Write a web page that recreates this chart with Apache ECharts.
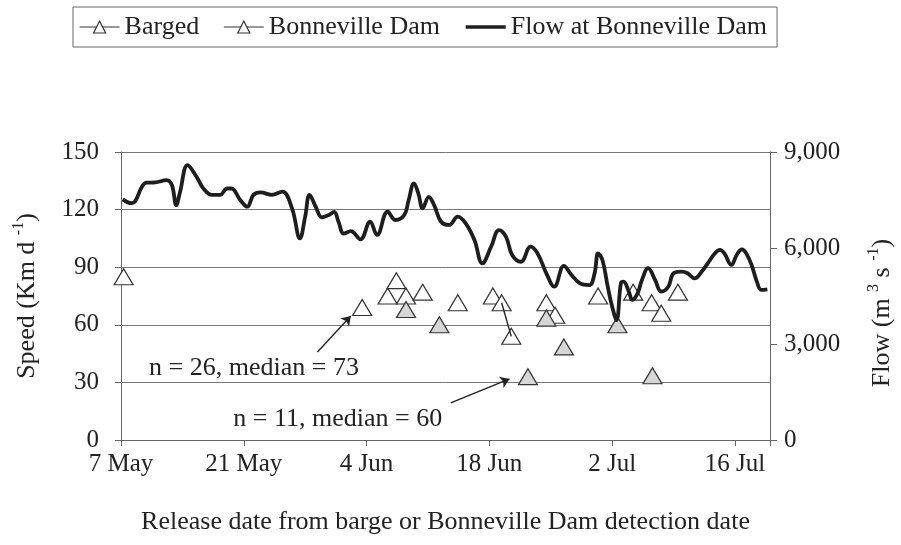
<!DOCTYPE html>
<html><head><meta charset="utf-8">
<script src="https://cdn.jsdelivr.net/npm/echarts@6/dist/echarts.min.js"></script>
<style>html,body{margin:0;padding:0;background:#fff}#c{width:901px;height:545px}</style>
</head><body><div id="c"></div>
<script>
// x values are days after 7 May
const xTickLabels = ['7 May','21 May','4 Jun','18 Jun','2 Jul','16 Jul'];
const flowDays = [0.2,1.2,1.6,2.4,2.9,3.9,5.2,5.8,6.3,6.7,7.6,8.6,9.4,10.4,11.3,12.1,12.6,13.6,14.4,15.1,15.9,17.2,18.4,19.5,20.4,21.0,21.5,22.2,22.9,23.7,24.3,24.8,25.4,26.2,27.3,28.4,29.2,30.4,31.3,32.3,32.8,33.4,33.9,34.4,35.1,35.7,36.5,37.4,38.4,39.3,40.3,41.2,42.2,43.1,43.9,44.6,45.6,46.7,47.5,48.5,49.4,50.5,51.3,52.3,53.4,54.0,54.4,54.9,55.5,56.0,56.5,57.0,57.3,57.9,58.3,58.9,59.4,60.1,60.9,61.6,62.4,63.0,63.9,64.6,65.4,66.2,66.9,67.7,68.3,68.8,69.6,70.2,70.8,71.3,71.9,72.5,73.0,73.7];
const flowValues = [7520,7400,7450,7920,8040,8050,8120,7970,7340,7710,8590,8230,7860,7660,7660,7860,7860,7500,7290,7660,7740,7660,7760,7240,6300,6980,7660,7290,6960,7030,7130,6820,6450,6530,6270,6820,6410,7135,6875,7030,7500,8020,7710,7240,7600,7340,6820,6720,6980,6770,6250,5520,6040,6560,6350,5780,5570,6040,5830,5210,4790,5440,5180,4900,4840,5210,5830,5620,4790,4170,3750,4900,4950,4640,4380,4580,5000,5370,5000,4640,4790,5210,5260,5210,5050,5260,5520,5830,5940,5830,5470,5780,5960,5830,5470,4950,4690,4710];
const bargedDays = [0.3,27.5,30.4,31.4,32.5,34.4,38.4,42.4,43.4,44.5,48.5,49.5,54.4,58.4,60.5,61.6,63.5];
const bargedSpeed = [85,69,75,83,75,77,71.5,75,71.5,54,71.5,65,75,77,71.5,66,77];
const bonnDays = [32.5,36.3,46.4,48.5,50.5,56.6,60.6];
const bonnSpeed = [68,60,33,63.5,48.5,60,33.5];
const annTexts = ['n = 26, median = 73','n = 11, median = 60'];
const annAnchors = [[3.2,37.5],[12.8,11]];
const arrowFrom = [[22.4,45.8],[37.6,19.3]];
const arrowTo = [[26.2,64.6],[44.3,31.8]];
const linkFrom = [43.4,71.5], linkTo = [44.5,54];

const FONT = '"Liberation Serif","Times New Roman",serif';
const TXT = '#222';
const FS = 25, FT = 26;
const pair = (a,b) => a.map((v,i)=>[v,b[i]]);

const chart = echarts.init(document.getElementById('c'));
const markLines = arrowFrom.map((f,i)=>[{coord:f,symbol:'none'},{coord:arrowTo[i],symbol:'arrow'}]);
markLines.push([{coord:linkFrom,symbol:'none'},{coord:linkTo,symbol:'none'}]);
const richName = {a:{fontFamily:FONT,fontSize:FT,color:TXT,lineHeight:32},s:{fontFamily:FONT,fontSize:16,color:TXT,verticalAlign:'top',lineHeight:16}};

chart.setOption({
  animation:false,
  backgroundColor:'#fff',
  textStyle:{fontFamily:FONT,color:TXT},
  legend:{
    left:73, top:7, padding:[7,10,7,6], itemGap:24, itemWidth:40, itemHeight:15,
    borderColor:'#666', borderWidth:1,
    textStyle:{fontFamily:FONT,fontSize:FT,color:TXT},
    data:[
      {name:'Barged', itemStyle:{color:'#fff',borderColor:'#333',borderWidth:1.2}, lineStyle:{width:1.2,color:'#333',opacity:1}},
      {name:'Bonneville Dam', itemStyle:{color:'#fff',borderColor:'#333',borderWidth:1.2}, lineStyle:{width:1.2,color:'#333',opacity:1}},
      {name:'Flow at Bonneville Dam', itemStyle:{opacity:0}, lineStyle:{width:3.5,color:'#1e1e1e',opacity:1}}
    ]
  },
  grid:{left:121,right:131,top:152,bottom:105,outerBoundsMode:'none',containLabel:false},
  xAxis:{
    type:'value', min:0, max:74, interval:14,
    axisLine:{lineStyle:{color:'#666',width:1}},
    axisTick:{show:true,length:6,lineStyle:{color:'#666'}},
    splitLine:{show:false},
    axisLabel:{margin:12,fontFamily:FONT,fontSize:FS,color:TXT,
      formatter:v=> (v%14===0 ? xTickLabels[v/14] : '')},
    name:'Release date from barge or Bonneville Dam detection date',
    nameLocation:'middle', nameGap:69,
    nameTextStyle:{fontFamily:FONT,fontSize:FT,color:TXT}
  },
  yAxis:[{
    type:'value', min:0, max:150, interval:30,
    axisLine:{show:true,lineStyle:{color:'#666'}},
    axisTick:{show:true,length:6,lineStyle:{color:'#666'}},
    splitLine:{show:true,lineStyle:{color:'#777',width:1}},
    axisLabel:{margin:22,fontFamily:FONT,fontSize:FS,color:TXT},
    name:'{a|Speed (Km d }{s|-1}{a|)}', nameLocation:'middle', nameRotate:90, nameGap:78,
    nameTextStyle:{rich:richName}
  },{
    type:'value', min:0, max:9000, interval:3000, position:'right',
    axisLine:{show:true,lineStyle:{color:'#666'}},
    axisTick:{show:true,length:7,lineStyle:{color:'#666'}},
    splitLine:{show:false},
    axisLabel:{margin:14,fontFamily:FONT,fontSize:FS,color:TXT,formatter:v=>v.toLocaleString('en-US')},
    name:'{a|Flow (m }{s|3}{a| s }{s|-1}{a|)}', nameLocation:'middle', nameRotate:90, nameGap:96,
    nameTextStyle:{rich:richName,padding:[0,34,0,0]}
  }],
  series:[
    {name:'Barged', type:'line', yAxisIndex:0, data:pair(bargedDays,bargedSpeed),
     symbol:'triangle', symbolSize:[19,16], showSymbol:true, z:3,
     lineStyle:{width:0,opacity:0},
     itemStyle:{color:'#fff',borderColor:'#333',borderWidth:1.2},
     markLine:{silent:true,animation:false,symbolSize:9,label:{show:false},
       lineStyle:{color:'#222',width:1.4,type:'solid'},data:markLines}
    },
    {name:'Bonneville Dam', type:'line', yAxisIndex:0, data:pair(bonnDays,bonnSpeed),
     symbol:'triangle', symbolSize:[19,16], showSymbol:true, z:3,
     lineStyle:{width:0,opacity:0},
     itemStyle:{color:'#d6d6d6',borderColor:'#333',borderWidth:1.2}
    },
    {name:'Flow at Bonneville Dam', type:'line', yAxisIndex:1, data:pair(flowDays,flowValues),
     smooth:0.4, showSymbol:false, symbol:'none', z:4,
     lineStyle:{color:'#1e1e1e',width:3.8}, itemStyle:{color:'#1e1e1e'}
    }
  ]
});

const g = annTexts.map((t,i)=>{
  const p = chart.convertToPixel({xAxisIndex:0,yAxisIndex:0}, annAnchors[i]);
  return {type:'text', x:p[0], y:p[1], silent:true,
    style:{text:t, fontFamily:FONT, fontSize:FT, fill:TXT, verticalAlign:'middle', align:'left'}};
});
chart.setOption({graphic:g});
</script></body></html>
